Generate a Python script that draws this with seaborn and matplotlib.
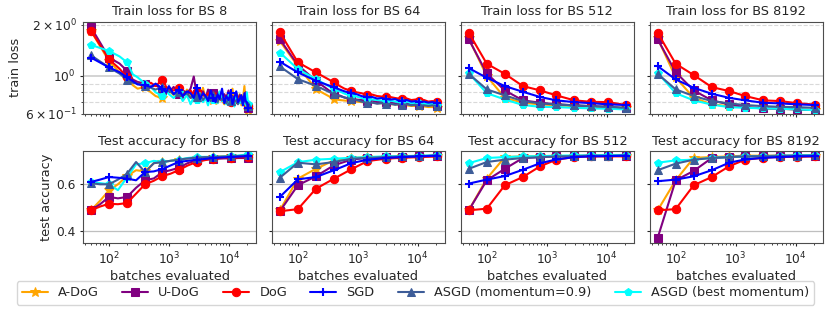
import numpy as np
import pandas as pd
import matplotlib
matplotlib.use("Agg")
import matplotlib.pyplot as plt
import seaborn as sns
from matplotlib.ticker import MultipleLocator

# ---------------- data ----------------
batch_sizes = [8, 64, 512, 8192]
methods = ["A-DoG", "U-DoG", "DoG", "SGD", "ASGD (momentum=0.9)", "ASGD (best momentum)"]

# x positions where markers are drawn (batches evaluated)
x_eval = [50, 100, 200, 400, 780, 1450, 2900, 5500, 10700, 21000]

# ---- train loss, BS 8 (dense, noisy) ----
x_train_8 = [50, 100, 150, 200, 250, 300, 400, 500, 600, 780, 900, 1000, 1200, 1450, 1700,
             2000, 2300, 2600, 2900, 3300, 3700, 4100, 4500, 5000, 5500, 6000, 6500, 7000,
             7700, 8400, 9100, 9900, 10700, 11500, 12400, 13300, 14200, 15200, 16200, 17200,
             18200, 19100, 20000, 21000]
mark_train_8 = [0, 1, 3, 6, 9, 13, 18, 24, 32, 43]
train_8 = {
    "A-DoG": [1.84, 1.22, 1.05, 0.96, 0.88, 0.84, 0.86, 0.80, 0.76, 0.74, 0.79, 0.82, 0.77, 0.80, 0.75,
              0.83, 0.76, 0.72, 0.77, 0.74, 0.85, 0.73, 0.70, 0.78, 0.72, 0.81, 0.69, 0.75, 0.72, 0.68,
              0.77, 0.70, 0.73, 0.84, 0.69, 0.74, 0.71, 0.78, 0.67, 0.73, 0.87, 0.70, 0.66, 0.63],
    "U-DoG": [1.93, 1.28, 1.18, 1.07, 0.95, 0.92, 0.90, 0.86, 0.88, 0.83, 0.85, 0.80, 0.86, 0.78, 0.82,
              0.79, 0.84, 0.99, 0.78, 0.78, 0.81, 0.74, 0.83, 0.76, 0.79, 0.72, 0.80, 0.75, 0.71, 0.78,
              0.74, 0.82, 0.72, 0.76, 0.70, 0.79, 0.73, 0.77, 0.69, 0.75, 0.72, 0.80, 0.68, 0.65],
    "DoG": [1.84, 1.25, 1.10, 0.98, 0.92, 0.90, 0.88, 0.91, 0.87, 0.95, 0.86, 0.84, 0.82, 0.85, 0.80,
            0.78, 0.82, 0.77, 0.80, 0.75, 0.78, 0.74, 0.79, 0.73, 0.76, 0.72, 0.77, 0.74, 0.71, 0.75,
            0.72, 0.76, 0.70, 0.74, 0.72, 0.69, 0.75, 0.71, 0.73, 0.68, 0.74, 0.70, 0.69, 0.66],
    "SGD": [1.28, 1.12, 1.05, 0.98, 0.93, 0.89, 0.88, 0.86, 0.90, 0.84, 0.80, 0.87, 0.78, 0.83, 0.76,
            0.81, 0.79, 0.74, 0.85, 0.73, 0.79, 0.76, 0.71, 0.82, 0.74, 0.70, 0.78, 0.73, 0.84, 0.69,
            0.76, 0.72, 0.79, 0.68, 0.75, 0.81, 0.70, 0.73, 0.77, 0.67, 0.79, 0.71, 0.70, 0.65],
    "ASGD (momentum=0.9)": [1.32, 1.12, 1.03, 0.95, 0.91, 0.90, 0.87, 0.85, 0.83, 0.86, 0.80, 0.82, 0.78,
                            0.80, 0.76, 0.79, 0.74, 0.77, 0.75, 0.78, 0.72, 0.76, 0.74, 0.71, 0.77, 0.73,
                            0.70, 0.75, 0.72, 0.74, 0.69, 0.73, 0.71, 0.75, 0.70, 0.72, 0.68, 0.74, 0.71,
                            0.69, 0.73, 0.70, 0.68, 0.66],
    "ASGD (best momentum)": [1.52, 1.40, 1.30, 1.20, 1.02, 0.98, 0.90, 0.86, 0.80, 0.76, 0.82, 0.78, 0.74,
                             0.80, 0.71, 0.77, 0.68, 0.75, 0.72, 0.79, 0.70, 0.74, 0.67, 0.78, 0.72, 0.75,
                             0.69, 0.81, 0.71, 0.74, 0.68, 0.77, 0.70, 0.73, 0.66, 0.76, 0.71, 0.69, 0.74,
                             0.67, 0.72, 0.70, 0.80, 0.68],
}

# ---- train loss, BS 64 (medium density) ----
x_train_64 = [50, 100, 200, 400, 500, 600, 780, 950, 1150, 1450, 1750, 2100, 2500, 2900, 3500,
              4200, 4800, 5500, 6600, 7800, 9200, 10700, 12800, 15000, 17500, 21000]
mark_train_64 = [0, 1, 2, 3, 6, 9, 13, 17, 21, 25]
train_64 = {
    "A-DoG": [1.60, 1.14, 0.835, 0.73, 0.72, 0.715, 0.71, 0.705, 0.70, 0.70, 0.695, 0.69, 0.69,
              0.685, 0.68, 0.68, 0.675, 0.675, 0.67, 0.665, 0.665, 0.66, 0.66, 0.655, 0.655, 0.65],
    "U-DoG": [1.64, 1.156, 0.935, 0.78, 0.765, 0.745, 0.73, 0.725, 0.72, 0.71, 0.715, 0.70, 0.705,
              0.697, 0.70, 0.69, 0.695, 0.685, 0.69, 0.68, 0.685, 0.675, 0.68, 0.67, 0.675, 0.66],
    "DoG": [1.80, 1.20, 1.047, 0.915, 0.87, 0.84, 0.816, 0.80, 0.79, 0.77, 0.775, 0.76, 0.755,
            0.746, 0.75, 0.74, 0.735, 0.73, 0.735, 0.72, 0.725, 0.713, 0.72, 0.705, 0.71, 0.697],
    "SGD": [1.21, 1.047, 0.935, 0.855, 0.83, 0.81, 0.79, 0.78, 0.76, 0.746, 0.75, 0.735, 0.74,
            0.73, 0.725, 0.73, 0.715, 0.715, 0.72, 0.705, 0.71, 0.70, 0.705, 0.695, 0.70, 0.69],
    "ASGD (momentum=0.9)": [1.135, 0.956, 0.873, 0.78, 0.76, 0.745, 0.73, 0.72, 0.705, 0.69, 0.695,
                            0.685, 0.69, 0.68, 0.685, 0.675, 0.68, 0.675, 0.68, 0.67, 0.675, 0.67,
                            0.67, 0.665, 0.67, 0.665],
    "ASGD (best momentum)": [1.37, 1.095, 0.956, 0.835, 0.81, 0.785, 0.763, 0.755, 0.74, 0.73, 0.725,
                             0.72, 0.715, 0.71, 0.715, 0.705, 0.70, 0.70, 0.705, 0.69, 0.695, 0.69,
                             0.685, 0.68, 0.685, 0.67],
}

# ---- train loss, BS 512 / 8192 ----
train_512 = {
    "A-DoG": [1.66, 0.996, 0.742, 0.694, 0.679, 0.67, 0.663, 0.657, 0.654, 0.648],
    "U-DoG": [1.64, 1.033, 0.82, 0.717, 0.694, 0.68, 0.67, 0.663, 0.657, 0.643],
    "DoG": [1.79, 1.177, 1.027, 0.87, 0.82, 0.767, 0.717, 0.703, 0.70, 0.673],
    "SGD": [1.11, 0.973, 0.87, 0.805, 0.75, 0.717, 0.70, 0.69, 0.679, 0.673],
    "ASGD (momentum=0.9)": [1.027, 0.832, 0.767, 0.71, 0.688, 0.679, 0.67, 0.663, 0.657, 0.648],
    "ASGD (best momentum)": [1.035, 0.79, 0.726, 0.673, 0.657, 0.654, 0.648, 0.643, 0.64, 0.634],
}
train_8192 = {
    "A-DoG": [1.66, 0.978, 0.742, 0.679, 0.663, 0.654, 0.643, 0.64, 0.634, 0.628],
    "U-DoG": [1.64, 1.05, 0.82, 0.717, 0.679, 0.654, 0.643, 0.64, 0.634, 0.628],
    "DoG": [1.79, 1.177, 1.01, 0.858, 0.813, 0.76, 0.717, 0.71, 0.69, 0.677],
    "SGD": [1.14, 0.952, 0.85, 0.784, 0.742, 0.717, 0.694, 0.688, 0.679, 0.673],
    "ASGD (momentum=0.9)": [1.027, 0.832, 0.76, 0.71, 0.688, 0.673, 0.663, 0.657, 0.654, 0.648],
    "ASGD (best momentum)": [1.04, 0.79, 0.717, 0.677, 0.654, 0.648, 0.643, 0.64, 0.634, 0.628],
}

# ---- test accuracy, BS 8 (has in-between evaluations) ----
x_test_8 = [50, 71, 100, 141, 200, 283, 400, 560, 780, 1060, 1450, 2050, 2900, 4000, 5500,
            7700, 10700, 15000, 21000]
mark_test_8 = [0, 2, 4, 6, 8, 10, 12, 14, 16, 18]
test_8 = {
    "A-DoG": [0.489, 0.53, 0.574, 0.60, 0.635, 0.66, 0.655, 0.69, 0.695, 0.70, 0.705, 0.71, 0.714,
              0.716, 0.718, 0.719, 0.72, 0.721, 0.722],
    "U-DoG": [0.489, 0.515, 0.546, 0.54, 0.546, 0.585, 0.617, 0.625, 0.652, 0.66, 0.67, 0.69, 0.702,
              0.706, 0.709, 0.71, 0.711, 0.712, 0.712],
    "DoG": [0.489, 0.505, 0.517, 0.515, 0.52, 0.56, 0.60, 0.615, 0.635, 0.645, 0.66, 0.68, 0.695,
            0.703, 0.709, 0.712, 0.714, 0.715, 0.716],
    "SGD": [0.61, 0.62, 0.631, 0.628, 0.624, 0.617, 0.652, 0.655, 0.665, 0.68, 0.695, 0.70, 0.705,
            0.708, 0.712, 0.714, 0.716, 0.718, 0.72],
    "ASGD (momentum=0.9)": [0.605, 0.60, 0.60, 0.62, 0.645, 0.695, 0.652, 0.69, 0.695, 0.70, 0.705,
                            0.71, 0.714, 0.716, 0.716, 0.718, 0.719, 0.721, 0.723],
    "ASGD (best momentum)": [0.61, 0.605, 0.60, 0.575, 0.63, 0.685, 0.69, 0.70, 0.695, 0.70, 0.705,
                             0.712, 0.716, 0.717, 0.716, 0.718, 0.72, 0.723, 0.728],
}

# ---- test accuracy, BS 64 / 512 / 8192 ----
test_64 = {
    "A-DoG": [0.489, 0.624, 0.666, 0.702, 0.712, 0.716, 0.717, 0.719, 0.72, 0.722],
    "U-DoG": [0.485, 0.596, 0.634, 0.681, 0.705, 0.713, 0.716, 0.717, 0.719, 0.72],
    "DoG": [0.485, 0.494, 0.581, 0.624, 0.664, 0.699, 0.709, 0.713, 0.716, 0.719],
    "SGD": [0.546, 0.621, 0.631, 0.66, 0.69, 0.705, 0.712, 0.716, 0.719, 0.722],
    "ASGD (momentum=0.9)": [0.628, 0.692, 0.685, 0.695, 0.709, 0.713, 0.716, 0.719, 0.72, 0.723],
    "ASGD (best momentum)": [0.652, 0.694, 0.705, 0.709, 0.713, 0.716, 0.719, 0.72, 0.722, 0.724],
}
test_512 = {
    "A-DoG": [0.489, 0.624, 0.716, 0.719, 0.72, 0.72, 0.721, 0.722, 0.722, 0.722],
    "U-DoG": [0.489, 0.617, 0.666, 0.712, 0.716, 0.719, 0.72, 0.722, 0.722, 0.722],
    "DoG": [0.489, 0.496, 0.596, 0.631, 0.677, 0.705, 0.716, 0.719, 0.719, 0.719],
    "SGD": [0.603, 0.62, 0.635, 0.662, 0.69, 0.706, 0.716, 0.719, 0.72, 0.722],
    "ASGD (momentum=0.9)": [0.666, 0.695, 0.705, 0.712, 0.716, 0.719, 0.72, 0.722, 0.722, 0.723],
    "ASGD (best momentum)": [0.69, 0.712, 0.716, 0.719, 0.72, 0.722, 0.723, 0.723, 0.725, 0.725],
}
test_8192 = {
    "A-DoG": [0.489, 0.617, 0.713, 0.716, 0.719, 0.722, 0.722, 0.722, 0.722, 0.722],
    "U-DoG": [0.371, 0.617, 0.657, 0.712, 0.716, 0.719, 0.72, 0.722, 0.722, 0.722],
    "DoG": [0.489, 0.494, 0.596, 0.631, 0.677, 0.705, 0.713, 0.717, 0.717, 0.719],
    "SGD": [0.613, 0.62, 0.634, 0.66, 0.692, 0.706, 0.713, 0.716, 0.719, 0.72],
    "ASGD (momentum=0.9)": [0.66, 0.688, 0.705, 0.712, 0.716, 0.719, 0.72, 0.72, 0.722, 0.723],
    "ASGD (best momentum)": [0.692, 0.702, 0.705, 0.713, 0.716, 0.719, 0.72, 0.722, 0.723, 0.725],
}

# ---------------- styling ----------------
colors = {"A-DoG": "orange", "U-DoG": "purple", "DoG": "red", "SGD": "blue",
          "ASGD (momentum=0.9)": "#3d5c98", "ASGD (best momentum)": "cyan"}
markers = {"A-DoG": "*", "U-DoG": "s", "DoG": "o", "SGD": "+",
           "ASGD (momentum=0.9)": "^", "ASGD (best momentum)": "p"}
zorders = {"A-DoG": 2, "U-DoG": 2.1, "DoG": 2.2, "SGD": 2.6,
           "ASGD (momentum=0.9)": 2.4, "ASGD (best momentum)": 2.3}

FS = 9.3      # titles, axis labels, legend
TFS = 8.8     # tick labels

sns.set_style("ticks")
plt.rcParams["font.family"] = ["DejaVu Sans"]
plt.rcParams.update({
    "xtick.major.size": 2.5, "ytick.major.size": 2.5,
    "xtick.minor.size": 1.5, "ytick.minor.size": 1.5,
    "xtick.major.pad": 3, "ytick.major.pad": 3,
    "xtick.minor.pad": 3, "ytick.minor.pad": 3,
})

fig, axes = plt.subplots(2, 4, figsize=(8.31, 3.11), dpi=100, sharex=True, sharey="row")
fig.subplots_adjust(left=0.1, right=0.99, top=0.929, bottom=0.219, wspace=0.0925, hspace=0.415)

train_sets = [(x_train_8, train_8, mark_train_8), (x_train_64, train_64, mark_train_64),
              (x_eval, train_512, None), (x_eval, train_8192, None)]
test_sets = [(x_test_8, test_8, mark_test_8), (x_eval, test_64, None),
             (x_eval, test_512, None), (x_eval, test_8192, None)]


def draw(ax, xs, data, mev):
    for m in methods:
        sns.lineplot(x=xs, y=data[m], ax=ax, color=colors[m], marker=markers[m],
                     markevery=mev, markersize=6 if m != "A-DoG" else 7,
                     markeredgecolor=colors[m], markeredgewidth=1.5 if m == "SGD" else 0.75,
                     linewidth=1.5, label=m, zorder=zorders[m], sort=False)


for j, bs in enumerate(batch_sizes):
    ax = axes[0, j]
    xs, data, mev = train_sets[j]
    draw(ax, xs, data, mev)
    ax.set_xscale("log")
    ax.set_yscale("log")
    ax.set_ylim(0.6, 2.07)
    ax.grid(True, which="major", axis="y", color="0.8", linewidth=1.2)
    ax.grid(True, which="minor", axis="y", color="0.85", linestyle="--", linewidth=0.8)
    ax.set_title(f"Train loss for BS {bs}", fontsize=FS, pad=5)

    ax = axes[1, j]
    xs, data, mev = test_sets[j]
    draw(ax, xs, data, mev)
    ax.set_xscale("log")
    ax.set_ylim(0.35, 0.74)
    ax.yaxis.set_major_locator(MultipleLocator(0.2))
    ax.grid(True, which="major", axis="y", color="0.75", linewidth=0.9)
    ax.set_title(f"Test accuracy for BS {bs}", fontsize=FS, pad=5)
    ax.set_xlabel("batches evaluated", fontsize=FS, labelpad=2)

for ax in axes.flat:
    ax.tick_params(which="both", labelsize=TFS)
    for s in ax.spines.values():
        s.set_color("0.3")
    if ax.get_legend() is not None:
        ax.get_legend().remove()

axes[0, 0].set_ylabel("train loss", fontsize=FS, labelpad=2)
axes[1, 0].set_ylabel("test accuracy", fontsize=FS, labelpad=2)

handles, labels = axes[0, 2].get_legend_handles_labels()
fig.legend(handles, labels, loc="lower center", ncol=6, fontsize=FS,
           bbox_to_anchor=(0.5, 0.0), frameon=True, handlelength=2.0, columnspacing=1.8)

fig.savefig("out.png", dpi=100)
